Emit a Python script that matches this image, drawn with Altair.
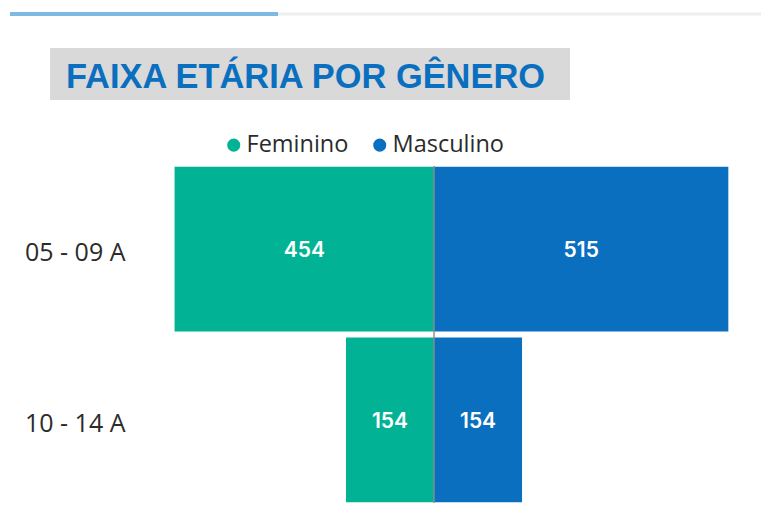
import altair as alt
import pandas as pd

faixas = ["05 - 09 A", "10 - 14 A"]
feminino = [454, 154]
masculino = [515, 154]
generos = ["Feminino", "Masculino"]
cores = ["#01B394", "#0A6FBF"]

rows = []
for f, fe, ma in zip(faixas, feminino, masculino):
    rows.append({"faixa": f, "genero": "Feminino", "valor": fe})
    rows.append({"faixa": f, "genero": "Masculino", "valor": ma})
df = pd.DataFrame(rows)

FONT = "Open Sans"
xscale = alt.Scale(domain=[-497, 570.4], nice=False, zero=False)
yscale = alt.Scale(domain=faixas, paddingInner=0.035, paddingOuter=0.005)

base = alt.Chart(df).transform_calculate(
    x0="datum.genero == 'Feminino' ? -datum.valor : 0",
    x1="datum.genero == 'Feminino' ? 0 : datum.valor",
    mid="datum.genero == 'Feminino' ? -datum.valor / 2 : datum.valor / 2",
)

bars = base.mark_bar(cornerRadius=0).encode(
    x=alt.X("x0:Q", scale=xscale, axis=None),
    x2="x1:Q",
    y=alt.Y("faixa:N", scale=yscale, sort=faixas, title=None,
            axis=alt.Axis(domain=False, ticks=False, grid=False, labelFontSize=25,
                          labelFont=FONT, labelColor="#2b2b2b", labelPadding=25,
                          labelAlign="right", labelOffset=4)),
    color=alt.Color("genero:N", scale=alt.Scale(domain=generos, range=cores),
                    legend=alt.Legend(title=None, orient="none", direction="horizontal",
                                      legendX=72, legendY=-33, symbolType="circle",
                                      symbolSize=170, symbolStrokeWidth=0,
                                      labelFont=FONT, labelFontSize=23.5,
                                      labelColor="#2b2b2b", labelOffset=1,
                                      columnPadding=19, padding=0)),
)

labels = base.mark_text(color="white", fontSize=21, font="Inter", fontWeight=600, dy=2).encode(
    x=alt.X("mid:Q", scale=xscale),
    y=alt.Y("faixa:N", scale=yscale, sort=faixas),
    text=alt.Text("valor:Q"),
)

center = alt.Chart(pd.DataFrame({"z": [0]})).mark_rule(color="#8a8a8a", strokeWidth=2, opacity=0.7).encode(
    x=alt.X("z:Q", scale=xscale),
)

title_bg = alt.Chart(pd.DataFrame({"t": [0]})).mark_rect(color="#D9D9D9").encode(
    x=alt.value(-100), x2=alt.value(420), y=alt.value(-118), y2=alt.value(-66)
)
title_txt = alt.Chart(pd.DataFrame({"t": ["FAIXA ETÁRIA POR GÊNERO"]})).mark_text(
    align="left", baseline="alphabetic", fontSize=34.4, fontWeight="bold", font="Liberation Sans",
    color="#0A6FBF"
).encode(x=alt.value(-84), y=alt.value(-78), text="t:N")

strip_gray = alt.Chart(pd.DataFrame({"t": [0]})).mark_rule(color="#EEEEEE", strokeWidth=3).encode(
    x=alt.value(128), x2=alt.value(620), y=alt.value(-152)
)
strip_blue = alt.Chart(pd.DataFrame({"t": [0]})).mark_rule(color="#7DB9E0", strokeWidth=4).encode(
    x=alt.value(-140), x2=alt.value(128), y=alt.value(-152)
)

chart = alt.layer(strip_gray, strip_blue, title_bg, title_txt, bars, center, labels).properties(
    width=610, height=337,
    autosize=alt.AutoSizeParams(type="none"),
    padding={"left": 142, "top": 158, "right": 1, "bottom": 4},
    background="white",
).configure_view(strokeWidth=0, stroke=None)

chart.save("out.html", embed_options={"renderer": "svg", "actions": False})
